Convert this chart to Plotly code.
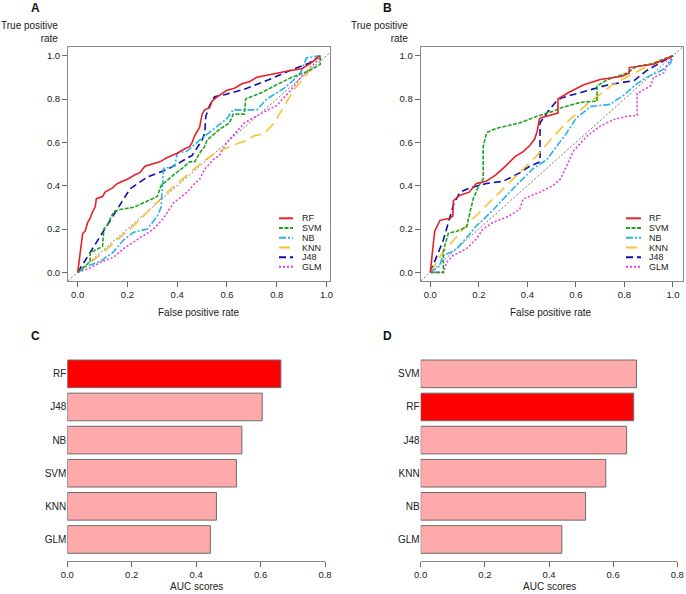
import plotly.graph_objects as go

W, H = 686, 594

# ---------------- data ----------------
models = ["RF", "SVM", "NB", "KNN", "J48", "GLM"]

# Panel A ROC curves
a_rf_fpr = [0, 0.01, 0.015, 0.02, 0.03, 0.04, 0.05, 0.06, 0.07, 0.075, 0.1, 0.11, 0.14, 0.16, 0.18, 0.2, 0.23, 0.25, 0.27, 0.3, 0.33, 0.36, 0.38, 0.4, 0.43, 0.45, 0.46, 0.47, 0.48, 0.49, 0.5, 0.51, 0.53, 0.54, 0.56, 0.6, 0.63, 0.66, 0.69, 0.72, 0.76, 0.8, 0.85, 0.9, 0.93, 0.975]
a_rf_tpr = [0, 0.08, 0.12, 0.18, 0.19, 0.23, 0.25, 0.28, 0.3, 0.34, 0.35, 0.37, 0.39, 0.41, 0.42, 0.43, 0.45, 0.46, 0.49, 0.5, 0.51, 0.53, 0.54, 0.55, 0.57, 0.58, 0.6, 0.63, 0.65, 0.67, 0.73, 0.75, 0.76, 0.79, 0.81, 0.84, 0.85, 0.87, 0.88, 0.9, 0.91, 0.92, 0.93, 0.94, 0.96, 1.0]
a_svm_fpr = [0, 0.03, 0.05, 0.05, 0.08, 0.1, 0.105, 0.12, 0.145, 0.17, 0.225, 0.28, 0.32, 0.335, 0.385, 0.42, 0.45, 0.47, 0.49, 0.51, 0.52, 0.57, 0.61, 0.625, 0.67, 0.675, 0.74, 0.79, 0.86, 0.93, 0.975, 0.975]
a_svm_tpr = [0, 0.03, 0.05, 0.09, 0.11, 0.12, 0.2, 0.22, 0.28, 0.29, 0.3, 0.33, 0.35, 0.4, 0.45, 0.48, 0.51, 0.51, 0.55, 0.58, 0.61, 0.66, 0.69, 0.73, 0.73, 0.8, 0.83, 0.86, 0.9, 0.93, 0.96, 1.0]
a_nb_fpr = [0, 0.04, 0.09, 0.14, 0.185, 0.225, 0.28, 0.32, 0.335, 0.345, 0.39, 0.4, 0.44, 0.49, 0.545, 0.6, 0.625, 0.66, 0.72, 0.76, 0.83, 0.87, 0.895, 0.92, 0.975]
a_nb_tpr = [0, 0.03, 0.05, 0.09, 0.15, 0.185, 0.2, 0.26, 0.3, 0.48, 0.49, 0.55, 0.56, 0.61, 0.66, 0.71, 0.75, 0.75, 0.75, 0.8, 0.85, 0.89, 0.92, 0.99, 1.0]
a_knn_fpr = [0, 0.09, 0.225, 0.36, 0.47, 0.55, 0.61, 0.67, 0.71, 0.75, 0.79, 0.83, 0.87, 0.925, 0.945, 0.975]
a_knn_tpr = [0, 0.08, 0.215, 0.37, 0.48, 0.55, 0.58, 0.605, 0.63, 0.64, 0.69, 0.77, 0.845, 0.92, 0.97, 1.0]
a_j48_fpr = [0, 0.21, 0.28, 0.36, 0.40, 0.46, 0.5, 0.51, 0.515, 0.53, 0.55, 0.59, 0.67, 0.77, 0.86, 0.93, 0.975]
a_j48_tpr = [0, 0.385, 0.44, 0.475, 0.5, 0.54, 0.61, 0.64, 0.72, 0.77, 0.81, 0.82, 0.845, 0.89, 0.935, 0.965, 1.0]
a_glm_fpr = [0, 0.04, 0.09, 0.145, 0.185, 0.225, 0.265, 0.305, 0.345, 0.385, 0.44, 0.47, 0.49, 0.51, 0.545, 0.57, 0.6, 0.67, 0.74, 0.8, 0.86, 0.9, 0.94, 0.975]
a_glm_tpr = [0, 0.015, 0.045, 0.07, 0.11, 0.14, 0.17, 0.2, 0.25, 0.32, 0.37, 0.41, 0.43, 0.475, 0.52, 0.54, 0.6, 0.69, 0.735, 0.77, 0.845, 0.905, 0.95, 0.99]

# Panel B ROC curves
b_rf_fpr = [0, 0.01, 0.018, 0.04, 0.08, 0.093, 0.095, 0.12, 0.16, 0.19, 0.23, 0.27, 0.31, 0.35, 0.38, 0.41, 0.43, 0.44, 0.45, 0.46, 0.49, 0.526, 0.526, 0.57, 0.63, 0.7, 0.79, 0.82, 0.82, 0.92, 1.0]
b_rf_tpr = [0, 0.09, 0.19, 0.24, 0.25, 0.26, 0.33, 0.355, 0.37, 0.41, 0.42, 0.45, 0.49, 0.535, 0.555, 0.585, 0.615, 0.65, 0.71, 0.715, 0.725, 0.735, 0.8, 0.83, 0.865, 0.89, 0.905, 0.92, 0.945, 0.96, 1.0]
b_svm_fpr = [0, 0.054, 0.054, 0.074, 0.11, 0.15, 0.164, 0.177, 0.2, 0.218, 0.218, 0.232, 0.274, 0.37, 0.44, 0.51, 0.54, 0.62, 0.687, 0.687, 0.73, 0.81, 0.85, 0.92, 0.975, 1.0]
b_svm_tpr = [0, 0.0, 0.1, 0.18, 0.19, 0.21, 0.28, 0.34, 0.4, 0.43, 0.58, 0.645, 0.665, 0.69, 0.72, 0.745, 0.76, 0.785, 0.79, 0.86, 0.89, 0.92, 0.95, 0.965, 0.99, 1.0]
b_nb_fpr = [0, 0.04, 0.05, 0.08, 0.11, 0.135, 0.165, 0.19, 0.22, 0.26, 0.3, 0.34, 0.38, 0.42, 0.48, 0.52, 0.56, 0.6, 0.66, 0.74, 0.8, 0.84, 0.89, 0.95, 0.99, 1.0]
b_nb_tpr = [0, 0.03, 0.075, 0.09, 0.11, 0.14, 0.18, 0.215, 0.245, 0.29, 0.34, 0.385, 0.43, 0.475, 0.52, 0.58, 0.64, 0.71, 0.765, 0.775, 0.82, 0.86, 0.9, 0.93, 0.965, 1.0]
b_knn_fpr = [0, 0.05, 0.16, 0.3, 0.44, 0.51, 0.56, 0.645, 0.75, 0.84, 0.92, 1.0]
b_knn_tpr = [0, 0.09, 0.23, 0.385, 0.54, 0.63, 0.69, 0.775, 0.865, 0.92, 0.965, 1.0]
b_j48_fpr = [0, 0.054, 0.095, 0.122, 0.164, 0.232, 0.3, 0.37, 0.41, 0.452, 0.452, 0.49, 0.52, 0.54, 0.62, 0.73, 0.84, 0.89, 1.0]
b_j48_tpr = [0, 0.15, 0.31, 0.37, 0.39, 0.41, 0.42, 0.46, 0.49, 0.51, 0.69, 0.75, 0.79, 0.805, 0.83, 0.865, 0.885, 0.93, 1.0]
b_glm_fpr = [0, 0.055, 0.066, 0.093, 0.148, 0.19, 0.217, 0.258, 0.313, 0.368, 0.382, 0.45, 0.505, 0.536, 0.59, 0.646, 0.7, 0.756, 0.81, 0.852, 0.852, 0.907, 0.92, 0.962, 0.98, 1.0]
b_glm_tpr = [0, 0.0, 0.045, 0.077, 0.108, 0.154, 0.2, 0.23, 0.254, 0.29, 0.338, 0.369, 0.4, 0.43, 0.56, 0.63, 0.675, 0.705, 0.72, 0.725, 0.825, 0.86, 0.9, 0.92, 0.965, 1.0]

diag_ref = [-0.1, 1.1]

# Panel C / D AUC bars (top to bottom)
c_models = ["RF", "J48", "NB", "SVM", "KNN", "GLM"]
c_auc = [0.663, 0.605, 0.542, 0.525, 0.463, 0.444]
d_models = ["SVM", "RF", "J48", "KNN", "NB", "GLM"]
d_auc = [0.673, 0.664, 0.642, 0.577, 0.514, 0.440]
highlight = "RF"

roc_ticks = [0, 0.2, 0.4, 0.6, 0.8, 1.0]
auc_ticks = [0, 0.2, 0.4, 0.6, 0.8]

# ---------------- style ----------------
FONT = "Liberation Sans, Arial, Helvetica, sans-serif"
TXT = "#222222"
styles = {
    "RF": dict(color="#e8202a", dash="solid"),
    "SVM": dict(color="#1fa51f", dash="4px,1.5px"),
    "NB": dict(color="#25b3e8", dash="7px,2px,2px,2px"),
    "KNN": dict(color="#f7c233", dash="11px,6px"),
    "J48": dict(color="#0d0db0", dash="7px,4px"),
    "GLM": dict(color="#e43ee4", dash="2px,2px"),
}

def px(x):
    return x / W

def py(y):
    return 1 - y / H

fig = go.Figure()

roc_sets = {
    ("x", "y"): [(m, f, t) for m, f, t in zip(models,
        [a_rf_fpr, a_svm_fpr, a_nb_fpr, a_knn_fpr, a_j48_fpr, a_glm_fpr],
        [a_rf_tpr, a_svm_tpr, a_nb_tpr, a_knn_tpr, a_j48_tpr, a_glm_tpr])],
    ("x2", "y2"): [(m, f, t) for m, f, t in zip(models,
        [b_rf_fpr, b_svm_fpr, b_nb_fpr, b_knn_fpr, b_j48_fpr, b_glm_fpr],
        [b_rf_tpr, b_svm_tpr, b_nb_tpr, b_knn_tpr, b_j48_tpr, b_glm_tpr])],
}

for (xa, ya), curves in roc_sets.items():
    fig.add_trace(go.Scatter(x=diag_ref, y=diag_ref, mode="lines", xaxis=xa, yaxis=ya,
                             line=dict(color="#555555", width=0.8, dash="2px,2px"),
                             showlegend=False, hoverinfo="skip"))
    for m, f, t in reversed(curves):
        st = styles[m]
        fig.add_trace(go.Scatter(x=f, y=t, mode="lines", xaxis=xa, yaxis=ya, name=m,
                                 line=dict(color=st["color"], dash=st["dash"], width=1.6),
                                 showlegend=False))

for xa, ya, mods, vals in [("x3", "y3", c_models, c_auc), ("x4", "y4", d_models, d_auc)]:
    fig.add_trace(go.Bar(x=vals, y=mods, orientation="h", xaxis=xa, yaxis=ya, width=0.833,
                         marker=dict(color=["#ff0000" if m == highlight else "#ffaaaa" for m in mods],
                                     line=dict(color="#6b6b6b", width=1)),
                         showlegend=False))

AX = dict(showgrid=False, zeroline=False, showline=True, linecolor="#8a8a8a", linewidth=1,
          ticks="outside", ticklen=5, tickcolor="#6a6a6a", tickwidth=1, automargin=False,
          tickfont=dict(family=FONT, size=9.5, color=TXT))
CAT = dict(showline=False, showgrid=False, zeroline=False, ticks="", automargin=False,
           type="category", categoryorder="array", range=[-0.65, 5.65],
           tickfont=dict(family=FONT, size=10, color=TXT))

roc_text = ["%.1f" % v for v in roc_ticks]
auc_text = ["%.1f" % v for v in auc_ticks]

fig.update_layout(
    template="none",
    width=W, height=H, margin=dict(l=0, r=0, t=0, b=0, pad=0), autosize=False,
    paper_bgcolor="white", plot_bgcolor="white", showlegend=False,
    font=dict(family=FONT, size=10, color=TXT),
    xaxis=dict(AX, domain=[px(68), px(330)], range=[-0.039, 1.014], anchor="y", mirror=True,
               tickvals=roc_ticks, ticktext=roc_text),
    yaxis=dict(AX, domain=[py(281), py(47)], range=[-0.04, 1.04], anchor="x", mirror=True,
               tickvals=roc_ticks, ticktext=roc_text),
    xaxis2=dict(AX, domain=[px(420.6), px(682.7)], range=[-0.04, 1.04], anchor="y2", mirror=True,
                tickvals=roc_ticks, ticktext=roc_text),
    yaxis2=dict(AX, domain=[py(281), py(47)], range=[-0.04, 1.04], anchor="x2", mirror=True,
                tickvals=roc_ticks, ticktext=roc_text),
    xaxis3=dict(AX, domain=[px(67.3), px(325)], range=[0, 0.8], anchor="y3",
                tickvals=auc_ticks, ticktext=auc_text),
    yaxis3=dict(CAT, domain=[py(561), py(352.3)], anchor="x3",
                categoryarray=list(reversed(c_models))),
    xaxis4=dict(AX, domain=[px(420.7), px(677.3)], range=[0, 0.8], anchor="y4",
                tickvals=auc_ticks, ticktext=auc_text),
    yaxis4=dict(CAT, domain=[py(561), py(352.3)], anchor="x4",
                categoryarray=list(reversed(d_models))),
)

ann = []
def text(x, y, s, size=10, bold=False, xanchor="center", align="center"):
    ann.append(dict(x=px(x), y=py(y), xref="paper", yref="paper", text=("<b>%s</b>" % s) if bold else s,
                    showarrow=False, xanchor=xanchor, yanchor="middle", align=align,
                    font=dict(family=FONT, size=size, color="#111111" if bold else TXT)))

for lbl, x, y in [("A", 35.5, 7.5), ("B", 387, 7.5), ("C", 35.5, 336), ("D", 387, 336)]:
    text(x, y, lbl, size=12, bold=True)
text(59.5, 32, "True positive<br>rate", xanchor="right", align="right")
text(410, 32, "True positive<br>rate", xanchor="right", align="right")
text(199, 312, "False positive rate")
text(551, 312, "False positive rate")
text(196, 586, "AUC scores")
text(549, 586, "AUC scores")

shapes = []
leg_rows = [218.3, 228, 237.8, 247.5, 257.2, 266.8]
for (lx0, lx1, tx) in [(279, 293, 300), (626, 641, 647)]:
    for m, ry in zip(models, leg_rows):
        st = styles[m]
        shapes.append(dict(type="line", xref="paper", yref="paper", x0=px(lx0), x1=px(lx1),
                           y0=py(ry), y1=py(ry), line=dict(color=st["color"], dash=st["dash"], width=2)))
        ann.append(dict(x=px(tx), y=py(ry), xref="paper", yref="paper", text=m, showarrow=False,
                        xanchor="left", yanchor="middle", font=dict(family=FONT, size=9, color=TXT)))

fig.update_layout(annotations=ann, shapes=shapes)
fig.write_html("out.html", config={"displayModeBar": False},
               post_script="document.body.style.margin='0px';document.body.style.overflow='hidden';")
